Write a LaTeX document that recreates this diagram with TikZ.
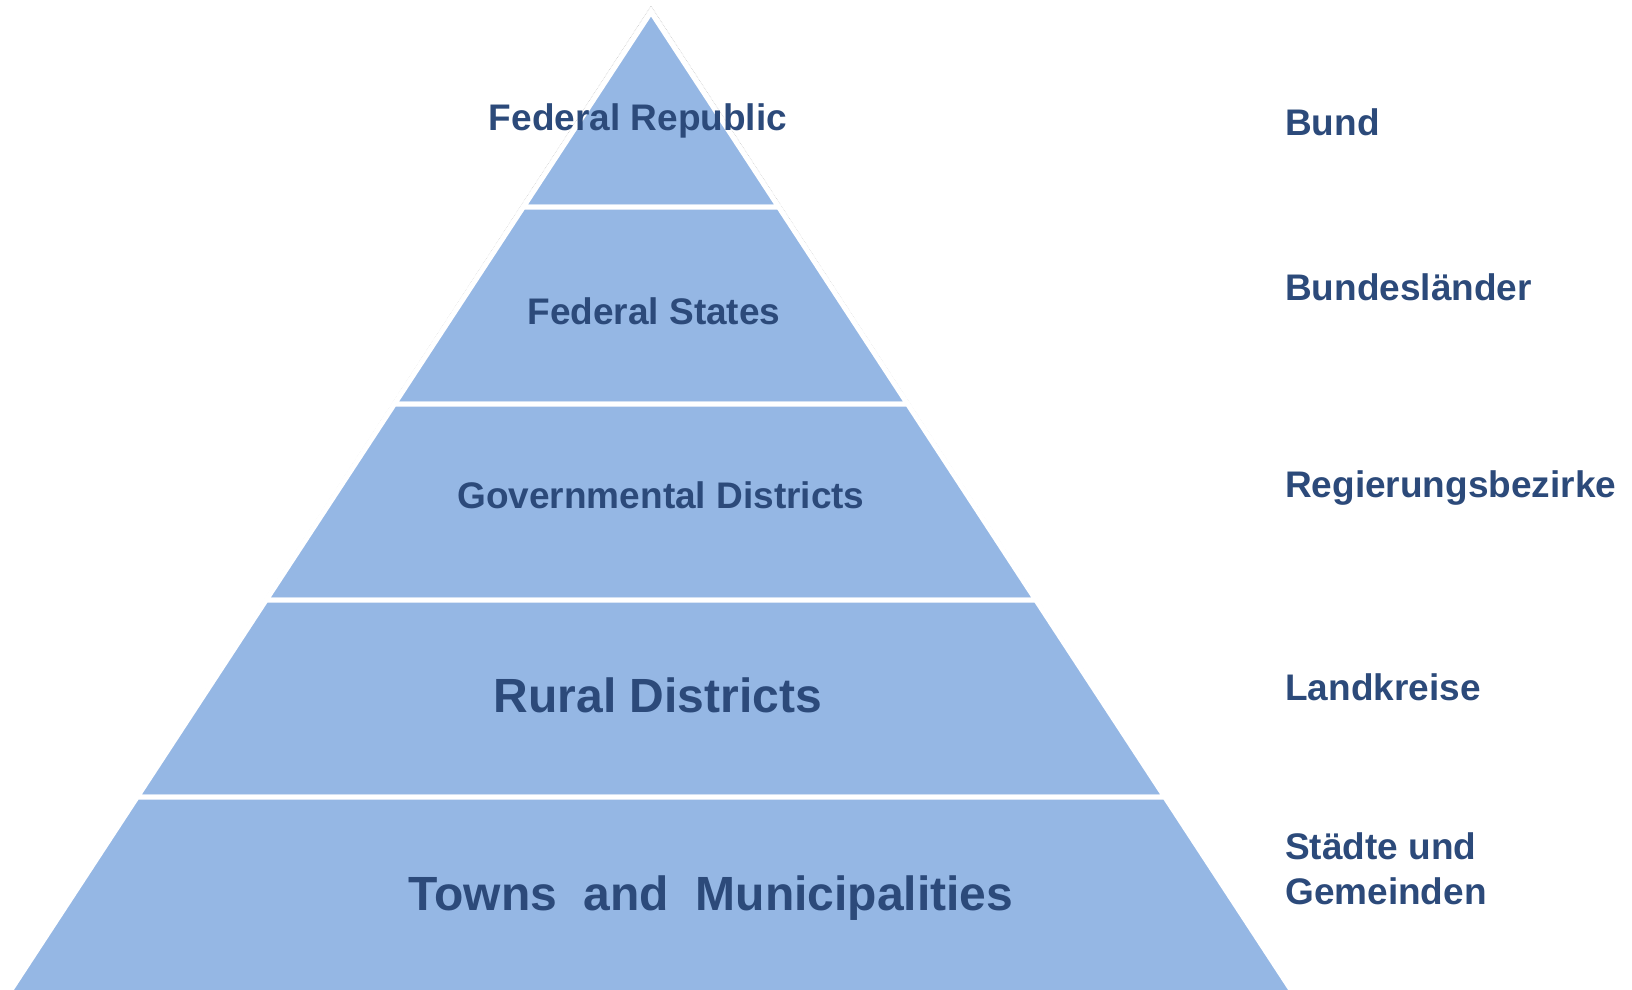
\documentclass[tikz,border=0pt]{standalone}
\usepackage{fontspec}
\setmainfont{Liberation Sans}
\usetikzlibrary{calc}
\definecolor{bandblue}{RGB}{149,183,228}
\definecolor{labelblue}{RGB}{44,74,122}
\newcommand{\band}[2]{\filldraw[fill=bandblue, draw=white, line width=5pt] ( {651-0.6545*(#1-12)} , #1 ) -- ( {651+0.6545*(#1-12)} , #1 ) -- ( {651+0.6545*(#2-12)} , #2 ) -- ( {651-0.6545*(#2-12)} , #2 ) -- cycle;}
\tikzset{
  level/.style={text=labelblue, font=\bfseries\fontsize{37}{44}\selectfont, inner sep=0pt, anchor=base},
  german/.style={text=labelblue, font=\bfseries\fontsize{37}{45}\selectfont, inner sep=0pt, anchor=base west, align=left},
  biglevel/.style={level, font=\bfseries\fontsize{48}{56}\selectfont}
}

\begin{document}
\begin{tikzpicture}[x=1pt, y=-1pt]
        \useasboundingbox (0,0) rectangle (1632,989);
        % faint outline
        \draw[gray!45, line width=0.6pt, densely dotted] (7,995) -- (651,6) -- (1295,995);
        % bands
        \band{12}{207}
        \band{207}{404}
        \band{404}{600}
        \band{600}{797}
        \band{797}{1000}
        % levels
        \node[level] (fedrep) at (638,130) {Federal Republic};
        \node[level] (fedstates) at (654,324) {Federal States};
        \node[level] (govdist) at (661,508) {Governmental Districts};
        \node[biglevel] (ruraldist) at (658,712) {Rural Districts};
        \node[biglevel] (towns) at (711,910) {Towns\ \ and\ \ Municipalities};
        % german names
        \node[german] (bund) at (1285,135) {Bund};
        \node[german] (laender) at (1285,300) {Bundesländer};
        \node[german] (regbez) at (1285,497) {Regierungsbezirke};
        \node[german] (landkreise) at (1285,700) {Landkreise};
        \node[german] (gemeinden) at (1285,904) {Städte und\\Gemeinden};
    \end{tikzpicture}
\end{document}
